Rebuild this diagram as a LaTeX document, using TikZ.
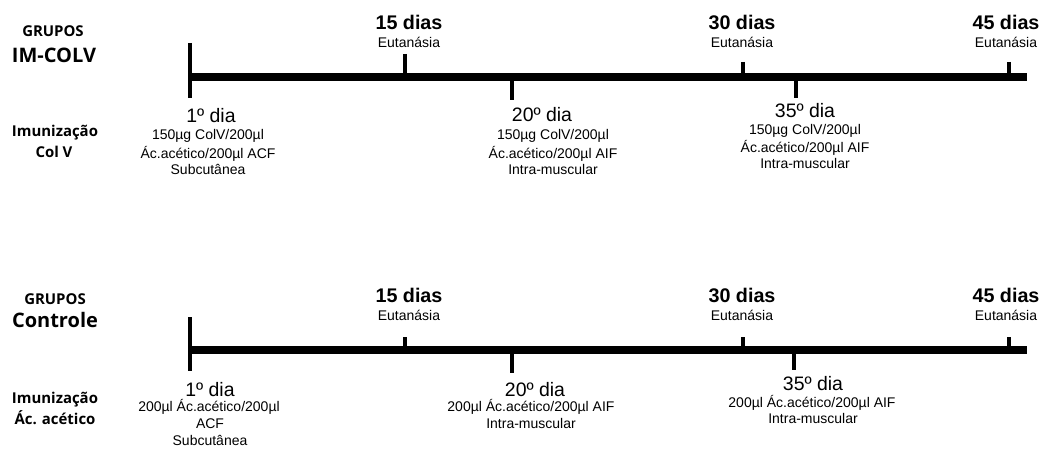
\documentclass[tikz,border=0pt]{standalone}
\usepackage{fontspec}
\setmainfont{Liberation Sans}
\newfontfamily\labfont{Open Sans}
\begin{document}
\begin{tikzpicture}[x=0.75pt,y=-0.75pt,
  tline/.style={line width=6.5pt},
  tick/.style={line width=3.2pt},
  bigday/.style={font=\bfseries\fontsize{14.8}{17}\selectfont,anchor=base,inner sep=0pt},
  eut/.style={font=\fontsize{10.5}{12}\selectfont,anchor=base,inner sep=0pt},
  dia/.style={font=\fontsize{14.6}{17}\selectfont,anchor=base,inner sep=0pt},
  det/.style={font=\fontsize{10.5}{12}\selectfont,anchor=base,inner sep=0pt},
  grp/.style={font=\labfont\bfseries\fontsize{11.2}{13}\selectfont,anchor=base,inner sep=0pt},
  grpbig/.style={font=\labfont\bfseries\fontsize{15}{17}\selectfont,anchor=base,inner sep=0pt}]
\useasboundingbox[fill=white] (0,0) rectangle (1052,449);

% ===== Top timeline =====
\coordinate (a0) at (190,77);
\coordinate (a1) at (1027,77);
\draw[tline] (a0) -- (a1);
\coordinate (a0t) at (190,43); \coordinate (a0b) at (190,98);
\draw[tick] (a0t) -- (a0b);
\coordinate (a15t) at (405,54); \coordinate (a15b) at (405,77);
\draw[tick] (a15t) -- (a15b);
\coordinate (a20t) at (512,77); \coordinate (a20b) at (512,100);
\draw[tick] (a20t) -- (a20b);
\coordinate (a30t) at (743,62); \coordinate (a30b) at (743,77);
\draw[tick] (a30t) -- (a30b);
\coordinate (a35t) at (796,77); \coordinate (a35b) at (796,98);
\draw[tick] (a35t) -- (a35b);
\coordinate (a45t) at (1009,62); \coordinate (a45b) at (1009,77);
\draw[tick] (a45t) -- (a45b);

\node[grp] (ag1) at (53,37) {GRUPOS};
\node[grpbig] (ag2) at (54,63) {IM-COLV};
\node[grp] (ai1) at (55,137) {Imunização};
\node[grp] (ai2) at (54,157) {Col V};

\node[bigday] (a15) at (409,30) {15 dias};
\node[eut] (a15e) at (409,48) {Eutanásia};
\node[bigday] (a30) at (742,30) {30 dias};
\node[eut] (a30e) at (742,48) {Eutanásia};
\node[bigday] (a45) at (1006,30) {45 dias};
\node[eut] (a45e) at (1006,48) {Eutanásia};

\node[dia] (a1d) at (211,123) {1º dia};
\node[det] (a1l1) at (208,140) {150µg ColV/200µl};
\node[det] (a1l2) at (208,158) {Ác.acético/200µl ACF};
\node[det] (a1l3) at (208,175) {Subcutânea};

\node[dia] (a20d) at (542,122) {20º dia};
\node[det] (a20l1) at (553,140) {150µg ColV/200µl};
\node[det] (a20l2) at (553,158) {Ác.acético/200µl AIF};
\node[det] (a20l3) at (553,175) {Intra-muscular};

\node[dia] (a35d) at (805,118) {35º dia};
\node[det] (a35l1) at (805,135) {150µg ColV/200µl};
\node[det] (a35l2) at (805,152) {Ác.acético/200µl AIF};
\node[det] (a35l3) at (805,169) {Intra-muscular};

% ===== Bottom timeline =====
\coordinate (b0) at (190,350);
\coordinate (b1) at (1027,350);
\draw[tline] (b0) -- (b1);
\coordinate (b0t) at (190,317); \coordinate (b0b) at (190,371);
\draw[tick] (b0t) -- (b0b);
\coordinate (b15t) at (405,337); \coordinate (b15b) at (405,350);
\draw[tick] (b15t) -- (b15b);
\coordinate (b20t) at (512,350); \coordinate (b20b) at (512,373);
\draw[tick] (b20t) -- (b20b);
\coordinate (b30t) at (743,337); \coordinate (b30b) at (743,350);
\draw[tick] (b30t) -- (b30b);
\coordinate (b35t) at (794,350); \coordinate (b35b) at (794,370);
\draw[tick] (b35t) -- (b35b);
\coordinate (b45t) at (1009,337); \coordinate (b45b) at (1009,350);
\draw[tick] (b45t) -- (b45b);

\node[grp] (bg1) at (55,304) {GRUPOS};
\node[grpbig] (bg2) at (55,327) {Controle};
\node[grp] (bi1) at (55,403) {Imunização};
\node[grp] (bi2) at (55,424) {Ác. acético};

\node[bigday] (b15) at (409,302) {15 dias};
\node[eut] (b15e) at (409,320) {Eutanásia};
\node[bigday] (b30) at (742,302) {30 dias};
\node[eut] (b30e) at (742,320) {Eutanásia};
\node[bigday] (b45) at (1006,302) {45 dias};
\node[eut] (b45e) at (1006,320) {Eutanásia};

\node[dia] (b1d) at (210,396) {1º dia};
\node[det] (b1l1) at (209,411) {200µl Ác.acético/200µl};
\node[det] (b1l2) at (210,428) {ACF};
\node[det] (b1l3) at (210,445) {Subcutânea};

\node[dia] (b20d) at (535,396) {20º dia};
\node[det] (b20l1) at (531,411) {200µl Ác.acético/200µl AIF};
\node[det] (b20l2) at (531,428) {Intra-muscular};

\node[dia] (b35d) at (813,390) {35º dia};
\node[det] (b35l1) at (812,407) {200µl Ác.acético/200µl AIF};
\node[det] (b35l2) at (813,423) {Intra-muscular};
\end{tikzpicture}
\end{document}
